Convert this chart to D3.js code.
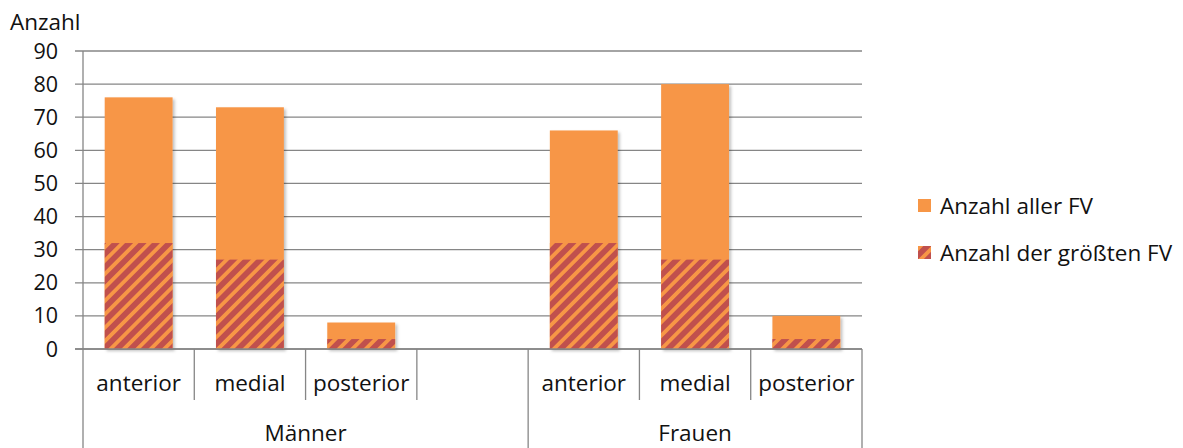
<!DOCTYPE html>
<html>
<head>
<meta charset="utf-8">
<script src="https://cdn.jsdelivr.net/npm/d3@7.9.0/dist/d3.min.js"></script>
<style>
  body { margin: 0; background: #fff; }
  svg text { font-family: "Open Sans", sans-serif; fill: #111; }
</style>
</head>
<body>
<svg id="chart" width="1183" height="448"></svg>
<script>
// data
const slotLabels = ["anterior", "medial", "posterior", "", "anterior", "medial", "posterior"];
const slotGroups = ["Männer", "Männer", "Männer", "Männer", "Frauen", "Frauen", "Frauen"];
const gruppen = ["Männer", "Frauen"];
const alleFV = [76, 73, 8, null, 66, 80, 10];     // Anzahl aller FV
const groessteFV = [32, 27, 3, null, 32, 27, 3];  // Anzahl der größten FV
const yTicks = [0, 10, 20, 30, 40, 50, 60, 70, 80, 90];
const serien = ["Anzahl aller FV", "Anzahl der größten FV"];

const orange = "#f79646";
const rot = "#c0504d";
const grid = "#868686";
const fs = 22.5;

const svg = d3.select("#chart");
const plotLeft = 83, plotRight = 862, plotTop = 51, plotBottom = 349;

// hatch pattern + soft shadow like Excel
const defs = svg.append("defs");
const pat = defs.append("pattern")
  .attr("id", "hatch")
  .attr("patternUnits", "userSpaceOnUse")
  .attr("width", 9.5).attr("height", 9.5)
  .attr("patternTransform", "rotate(45)");
pat.append("rect").attr("width", 9.5).attr("height", 9.5).attr("fill", rot);
pat.append("rect").attr("x", 0).attr("width", 3.8).attr("height", 9.5).attr("fill", orange);

const shadow = defs.append("filter").attr("id", "shadow")
  .attr("x", "-20%").attr("y", "-20%").attr("width", "140%").attr("height", "140%");
shadow.append("feDropShadow")
  .attr("dx", 2).attr("dy", 2).attr("stdDeviation", 1.5)
  .attr("flood-color", "#000").attr("flood-opacity", 0.25);

const idx = d3.range(slotLabels.length);
const x = d3.scaleBand().domain(idx).range([plotLeft, plotRight])
  .paddingInner(0.39).paddingOuter(0.195);
const y = d3.scaleLinear().domain([0, 90]).range([plotBottom, plotTop]);

// gridlines
svg.append("g").selectAll("line")
  .data(yTicks)
  .join("line")
  .attr("x1", plotLeft - 8).attr("x2", plotRight)
  .attr("y1", d => y(d)).attr("y2", d => y(d))
  .attr("stroke", grid).attr("stroke-width", 1.3);

// y labels
svg.append("g").selectAll("text")
  .data(yTicks)
  .join("text")
  .attr("x", 58).attr("y", d => y(d) + 7.5)
  .attr("text-anchor", "end")
  .attr("font-size", 21.5)
  .text(d => d);

svg.append("text").attr("x", 10).attr("y", 30).attr("font-size", fs).text("Anzahl");

// bars
const bars = svg.append("g");
bars.selectAll("rect.alle")
  .data(idx.filter(i => alleFV[i] != null))
  .join("rect")
  .attr("class", "alle")
  .attr("x", i => x(i)).attr("width", x.bandwidth())
  .attr("y", i => y(alleFV[i])).attr("height", i => y(0) - y(alleFV[i]))
  .attr("fill", orange)
  .attr("filter", "url(#shadow)");
bars.selectAll("rect.groesste")
  .data(idx.filter(i => groessteFV[i] != null))
  .join("rect")
  .attr("class", "groesste")
  .attr("x", i => x(i)).attr("width", x.bandwidth())
  .attr("y", i => y(groessteFV[i])).attr("height", i => y(0) - y(groessteFV[i]))
  .attr("fill", "url(#hatch)");

// axes lines
const step = x.step();
svg.append("line").attr("x1", plotLeft).attr("x2", plotLeft).attr("y1", plotTop).attr("y2", 448)
  .attr("stroke", grid).attr("stroke-width", 1.3);
svg.append("line").attr("x1", plotLeft - 8).attr("x2", plotRight).attr("y1", plotBottom).attr("y2", plotBottom)
  .attr("stroke", grid).attr("stroke-width", 1.3);

// category separators (inner level short, group boundaries long)
idx.forEach(i => {
  const xr = plotLeft + step * (i + 1);
  const isGroupEnd = i === idx.length - 1 || slotGroups[i] !== slotGroups[i + 1];
  if (isGroupEnd) {
    svg.append("line").attr("x1", xr).attr("x2", xr).attr("y1", plotBottom).attr("y2", 448)
      .attr("stroke", grid).attr("stroke-width", 1.3);
  } else if (slotLabels[i] !== "") {
    svg.append("line").attr("x1", xr).attr("x2", xr).attr("y1", plotBottom).attr("y2", 400)
      .attr("stroke", grid).attr("stroke-width", 1.3);
  }
});

// category labels
svg.append("g").selectAll("text")
  .data(idx)
  .join("text")
  .attr("x", i => x(i) + x.bandwidth() / 2).attr("y", 391)
  .attr("text-anchor", "middle").attr("font-size", fs)
  .text(i => slotLabels[i]);

svg.append("g").selectAll("text")
  .data(gruppen)
  .join("text")
  .attr("x", g => {
    const s = idx.filter(i => slotGroups[i] === g);
    return plotLeft + step * (d3.min(s) + d3.max(s) + 1) / 2;
  })
  .attr("y", 441)
  .attr("text-anchor", "middle").attr("font-size", fs)
  .text(g => g);

// legend
const legend = svg.append("g").selectAll("g")
  .data(serien)
  .join("g")
  .attr("transform", (d, i) => `translate(918, ${199 + i * 47})`);
legend.append("rect").attr("width", 13).attr("height", 13)
  .attr("fill", (d, i) => i === 0 ? orange : "url(#hatch)");
legend.append("text").attr("x", 22).attr("y", 15).attr("font-size", fs).text(d => d);
</script>
</body>
</html>
